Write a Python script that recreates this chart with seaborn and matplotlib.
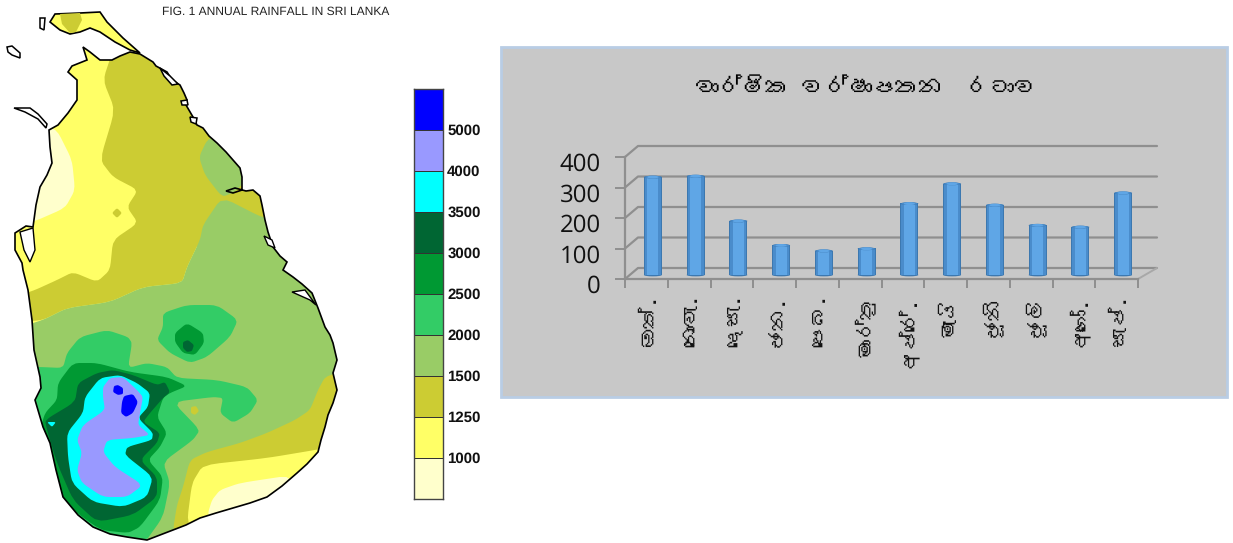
import matplotlib
matplotlib.use("Agg")
import matplotlib.pyplot as plt
import numpy as np
import pandas as pd
import seaborn as sns
from matplotlib import font_manager as fm
from matplotlib.colors import ListedColormap
from matplotlib.patches import Ellipse, Polygon, Rectangle
from matplotlib.transforms import Affine2D
from matplotlib.ft2font import FT2Font

# ---------- chart data ----------
MONTHS = ["ඔක්.", "නොවැ.", "දෙසැ.", "ජන.", "පෙබ.", "මාර්තු", "අප්රේ.", "මැයි", "ජූනි", "ජූලි", "අගෝ.", "සැප්."]
RAINFALL = [322, 325, 178, 98, 80, 87, 235, 300, 230, 164, 158, 270]
Y_TICKS = [0, 100, 200, 300, 400]
CHART_TITLE = "වාර්ෂික වර්ෂාපතන  රටාව"
MAP_TITLE = "FIG. 1 ANNUAL RAINFALL IN SRI LANKA"
LEGEND_LABELS = ["5000", "4000", "3500", "3000", "2500", "2000", "1500", "1250", "1000"]
BAND_COLORS = ["#0000ff", "#9999ff", "#00ffff", "#006633", "#009933",
               "#33cc66", "#99cc66", "#cccc33", "#ffff66", "#ffffcc"]

# ---------- map outlines, in map units ----------
MAINLAND = [(83,47),(90,52),(100,60),(112,60),(120,56),(130,52),(140,54),(153,62),(156,66),(167,72),(172,80),(180,85),
            (184,93),(187,100),(186,105),(193,117),(197,125),(203,128),(209,136),(217,143),(226,152),(233,160),(240,168),
            (242,177),(242,190),(233,193),(226,191),(235,188),(246,191),(253,190),(260,196),(262,205),(265,220),(268,232),
            (273,247),(280,256),(287,262),(283,270),(293,277),(302,284),(312,293),(318,308),(325,327),(330,335),(333,343),
            (337,360),(333,373),(337,390),(333,403),(328,415),(325,427),(321,440),(318,452),(307,464),(297,473),(282,486),
            (267,497),(250,503),(233,508),(216,513),(200,518),(186,525),(173,530),(160,535),(147,540),(127,537),(110,534),
            (93,527),(78,515),(63,497),(56,470),(50,443),(43,427),(35,400),(41,388),(40,377),(34,350),(32,320),(30,305),
            (28,290),(23,270),(22,263),(15,250),(15,233),(26,226),(33,227),(36,205),(40,187),(47,175),(52,163),(50,147),
            (49,130),(58,125),(68,113),(77,100),(77,80),(68,72),(72,66),(87,60),(83,47)]
PENINSULA = [(50,22),(55,14),(80,13),(100,12),(107,22),(115,30),(123,38),(140,53),(130,50),(115,42),(100,32),(90,28),
             (80,32),(70,34),(60,30)]
PENINSULA_OLIVE = [(60,14),(80,13),(82,20),(76,32),(70,33),(62,24)]
ISLANDS = [[(7,47),(12,46),(20,53),(20,58),(12,55),(8,52)],
           [(14,108),(30,108),(38,114),(47,124),(46,128),(38,119),(25,112)],
           [(40,18),(45,18),(44,30),(40,28)],
           [(160,68),(170,76),(178,84),(172,85),(164,76)],
           [(190,117),(197,118),(196,124),(191,122)],
           [(181,101),(187,100),(188,105),(182,105)]]
LAGOONS = [[(20,232),(33,228),(35,250),(30,262),(24,250)],
           [(264,236),(272,240),(275,248),(268,245)],
           [(292,292),(305,290),(316,305),(310,300)]]

NW_DRY = [(57,130),(72,160),(75,190),(65,208),(33,222),(10,222),(20,150),(40,125)]
NORTH_OLIVE = [(113,50),(103,80),(115,110),(100,160),(113,177),(138,190),(127,207),(138,223),(113,240),(110,270),
               (97,282),(73,272),(57,280),(35,290),(20,295),(20,322),(43,320),(67,308),(110,302),(143,287),(182,283),
               (187,267),(200,240),(300,240),(300,50)]
OLIVE_SPOT = [(112,213),(117,208),(122,213),(117,218)]
NORTH_GREEN = [(207,140),(199,157),(205,175),(222,197),(235,192),(255,170),(225,130)]
MID_GREEN = [(222,197),(263,218),(300,225),(350,300),(350,420),(200,540),(10,545),(10,330),(43,320),(67,308),(110,302),
             (143,287),(182,283),(187,267),(200,240),(203,225)]
SOUTH_OLIVE = [(173,530),(177,505),(183,487),(190,460),(207,452),(240,443),(267,433),(295,420),(310,410),(318,390),(325,377),
               (345,370),(345,480),(180,545)]
SOUTH_YELLOW = [(187,522),(192,483),(203,465),(267,458),(315,450),(340,445),(340,520),(200,540)]
SOUTH_DRY = [(208,513),(212,500),(220,490),(240,483),(293,475),(300,520),(210,530)]
CENTRAL_GREEN = [(163,313),(187,305),(217,305),(238,320),(230,337),(207,357),(190,363),(170,353),(157,340),(163,327)]
CENTRAL_DARK = [(175,333),(187,323),(203,333),(204,343),(195,355),(183,353),(175,342)]
CENTRAL_DEEP = [(183,342),(188,340),(194,345),(192,351),(187,352),(183,348)]
WET_GREEN = [(80,337),(107,330),(128,337),(132,343),(128,368),(147,363),(167,367),(177,378),(217,380),(247,387),(258,400),
             (250,413),(233,423),(220,413),(223,398),(213,397),(173,402),(200,430),(193,440),(163,462),(170,483),
             (163,517),(143,545),(20,545),(20,367),(40,367),(63,368),(67,353)]
WET_DARK = [(45,413),(57,400),(58,383),(73,363),(97,363),(130,372),(167,377),(187,386),(170,393),(163,398),(157,417),
            (167,433),(160,447),(148,460),(163,477),(160,500),(140,527),(128,533),(100,530),(60,500),(40,430)]
WET_DEEP = [(45,420),(75,402),(78,383),(97,373),(113,370),(133,375),(157,385),(165,382),(170,392),(163,398),(150,413),
            (143,422),(160,433),(157,443),(140,460),(157,477),(157,497),(133,515),(97,522),(73,500),(57,463),(47,430)]
WET_CYAN = [(67,433),(83,413),(85,397),(100,378),(120,375),(137,383),(150,393),(148,407),(138,418),(153,433),(152,440),
            (127,447),(125,455),(153,477),(147,497),(123,507),(93,502),(72,483),(68,457)]
WET_LILAC = [(103,387),(110,378),(123,377),(137,390),(143,397),(140,413),(138,425),(150,435),(133,438),(107,440),(103,452),
             (115,467),(143,485),(127,497),(103,497),(82,483),(77,470),(82,453),(77,440),(83,425),(105,410),(103,397)]
PEAK_A = [(114,386),(118,385),(123,388),(123,394),(118,395),(113,392)]
PEAK_B = [(124,396),(133,394),(138,402),(133,413),(126,417),(121,413),(122,402)]
OLIVE_FLECK = [(191,407),(196,406),(199,411),(195,415),(191,413)]
CYAN_FLECK = [(47,422),(56,422),(52,427)]

ZONES = [(NW_DRY, "#ffffcc"), (NORTH_OLIVE, "#cccc33"), (OLIVE_SPOT, "#cccc33"), (NORTH_GREEN, "#99cc66"), (MID_GREEN, "#99cc66"),
         (SOUTH_OLIVE, "#cccc33"), (SOUTH_YELLOW, "#ffff66"), (SOUTH_DRY, "#ffffcc"),
         (CENTRAL_GREEN, "#33cc66"), (CENTRAL_DARK, "#009933"), (CENTRAL_DEEP, "#006633"),
         (WET_GREEN, "#33cc66"), (WET_DARK, "#009933"), (WET_DEEP, "#006633"), (WET_CYAN, "#00ffff"),
         (WET_LILAC, "#9999ff"), (PEAK_A, "#0000ff"), (PEAK_B, "#0000ff"), (OLIVE_FLECK, "#cccc33"), (CYAN_FLECK, "#00ffff")]

def rounded(pts, passes=2, cut=0.15):
    """Round the corners of a hand-read contour so it looks like a contour fill."""
    p = np.asarray(pts, dtype=float)
    for _ in range(passes):
        q = np.roll(p, -1, axis=0)
        p = np.column_stack([(1 - cut) * p + cut * q, cut * p + (1 - cut) * q]).reshape(-1, 2)
    return p

# ---------- fonts ----------
sns.set_theme(style="white")
def sinhala_family():
    for f in fm.fontManager.ttflist:
        try:
            if 0x0D9A in FT2Font(f.fname).get_charmap():
                return [f.name, "DejaVu Sans"]
        except Exception:
            pass
    return ["Noto Sans", "DejaVu Sans"]
SINHALA = sinhala_family()
plt.rcParams["font.family"] = ["Liberation Sans", "DejaVu Sans"]
plt.rcParams["text.hinting"] = "no_hinting"
plt.rcParams["text.hinting_factor"] = 1

W, H = 1233, 543
fig = plt.figure(figsize=(W / 100, H / 100), dpi=100, facecolor="white")

def box(x0, y0, x1, y1):
    return [x0 / W, 1 - y1 / H, (x1 - x0) / W, (y1 - y0) / H]

# ---------- canvas: map and panel ----------
canvas = fig.add_axes([0, 0, 1, 1], zorder=0)
canvas.set_xlim(0, W)
canvas.set_ylim(H, 0)
canvas.axis("off")

land = Polygon(MAINLAND, closed=True, facecolor="#ffff66", edgecolor="none", zorder=1)
canvas.add_patch(land)
for pts, col in ZONES:
    z = Polygon(rounded(pts), closed=True, facecolor=col, edgecolor="none", zorder=2)
    canvas.add_patch(z)
    z.set_clip_path(land)
canvas.add_patch(Polygon(PENINSULA, closed=True, facecolor="#ffff66", edgecolor="black", lw=1.2, zorder=3))
canvas.add_patch(Polygon(PENINSULA_OLIVE, closed=True, facecolor="#cccc33", edgecolor="none", zorder=3))
canvas.add_patch(Polygon(MAINLAND, closed=True, facecolor="none", edgecolor="black", lw=1.2, zorder=4))
for pts in ISLANDS:
    canvas.add_patch(Polygon(pts, closed=True, facecolor="white", edgecolor="black", lw=1.1, zorder=4))
for pts in LAGOONS:
    canvas.add_patch(Polygon(pts, closed=True, facecolor="white", edgecolor="black", lw=1.0, zorder=4))

canvas.text(162, 11.5, MAP_TITLE, fontsize=8.7, color="#222222", va="center", ha="left")
canvas.add_patch(Rectangle((501, 47), 726, 350, facecolor="#c8c8c8", edgecolor="#b9cde5", lw=2, zorder=1))
canvas.text(866, 88, CHART_TITLE, fontsize=17, family=SINHALA, color="black", ha="center", va="center", zorder=5)

# ---------- rainfall scale ----------
scale = fig.add_axes(box(414, 89, 443, 499), zorder=2)
bands = pd.DataFrame({"band": np.arange(len(BAND_COLORS))})
sns.heatmap(bands, ax=scale, cmap=ListedColormap(BAND_COLORS), cbar=False, linewidths=0.6, linecolor="#333333",
            xticklabels=False, yticklabels=False)
for s in scale.spines.values():
    s.set_visible(True)
    s.set_color("#444444")
    s.set_linewidth(1)
scale.set_xlabel("")
scale.set_ylabel("")
scale.yaxis.tick_right()
scale.set_yticks(np.arange(1, len(LEGEND_LABELS) + 1), LEGEND_LABELS, rotation=0, fontsize=11, fontweight="bold", color="#111111")
scale.tick_params(axis="y", length=0, pad=3)
for lab in scale.get_yticklabels():
    lab.set_transform(lab.get_transform() + Affine2D().translate(0, 1))

# ---------- bar chart ----------
ax = fig.add_axes(box(625, 157, 1138, 279), zorder=3)
ax.patch.set_alpha(0)
df = pd.DataFrame({"month": MONTHS, "rain": RAINFALL})
# cylinder shading: nested bars
SHADES = [(0.42, "#3c78b0"), (0.37, "#4a8ccb"), (0.26, "#5fa6e6")]
for width, col in SHADES:
    sns.barplot(data=df, x="month", y="rain", order=MONTHS, color=col, width=width, saturation=1,
                linewidth=0, edgecolor="none", ax=ax, zorder=3)
ax.set_xlim(-0.5, len(MONTHS) - 0.5)
ax.set_ylim(0, 400)
ax.set_xlabel("")
ax.set_ylabel("")

px_x = 513 / len(MONTHS)
px_y = 122 / 400
bar_shift = Affine2D().translate(6.5, 4)
for p in list(ax.patches):
    p.set_transform(ax.transData + bar_shift)
    p.set_clip_on(False)
for i, v in enumerate(RAINFALL):
    for w, c in SHADES:
        ax.add_patch(Ellipse((i, v - 1), w, 9, facecolor=c, edgecolor="none", zorder=4,
                             transform=ax.transData + bar_shift, clip_on=False))
    ax.add_patch(Ellipse((i, 0), 0.42, 9, facecolor="#3c78b0", edgecolor="none", zorder=2.5,
                         transform=ax.transData + bar_shift, clip_on=False))

# 3-D walls and floor, expressed on the axis scales
GRID = "#8f8f8f"
dx, dy = 13 / px_x, 11 / px_y
dx_right = 19 / px_x
right = len(MONTHS) - 0.5
for v in Y_TICKS:
    ax.plot([-0.5, -0.5 + dx, right + dx_right], [v, v + dy, v + dy], color=GRID, lw=1.6, clip_on=False, zorder=1)
ax.plot([right, right + dx_right], [0, dy], color="#a8a8a8", lw=1.4, clip_on=False, zorder=1)

sns.despine(ax=ax, top=True, right=True)
for side in ("left", "bottom"):
    ax.spines[side].set_color(GRID)
    ax.spines[side].set_linewidth(1.6)
ax.set_yticks(Y_TICKS, [str(t) for t in Y_TICKS], fontsize=17, family="Open Sans", color="#111111")
ax.tick_params(axis="y", length=7, width=1.4, color=GRID, pad=16 / 1.39, left=True)
for lab in ax.get_yticklabels():
    lab.set_transform(lab.get_transform() + Affine2D().translate(1.5, -5))

ax.set_xticks(np.arange(-0.5, len(MONTHS) + 0.5), minor=False, labels=[""] * (len(MONTHS) + 1))
ax.tick_params(axis="x", which="major", length=9 / 1.39, width=1.4, color=GRID, bottom=True)
ax.set_xticks(np.arange(len(MONTHS)), MONTHS, minor=True, rotation=90, fontsize=15, family=SINHALA, color="#111111")
ax.tick_params(axis="x", which="minor", length=0, pad=16 / 1.39)
for lab in ax.get_xticklabels(minor=True):
    lab.set_transform(lab.get_transform() + Affine2D().translate(3, 0))

fig.savefig("out.png", dpi=100)
